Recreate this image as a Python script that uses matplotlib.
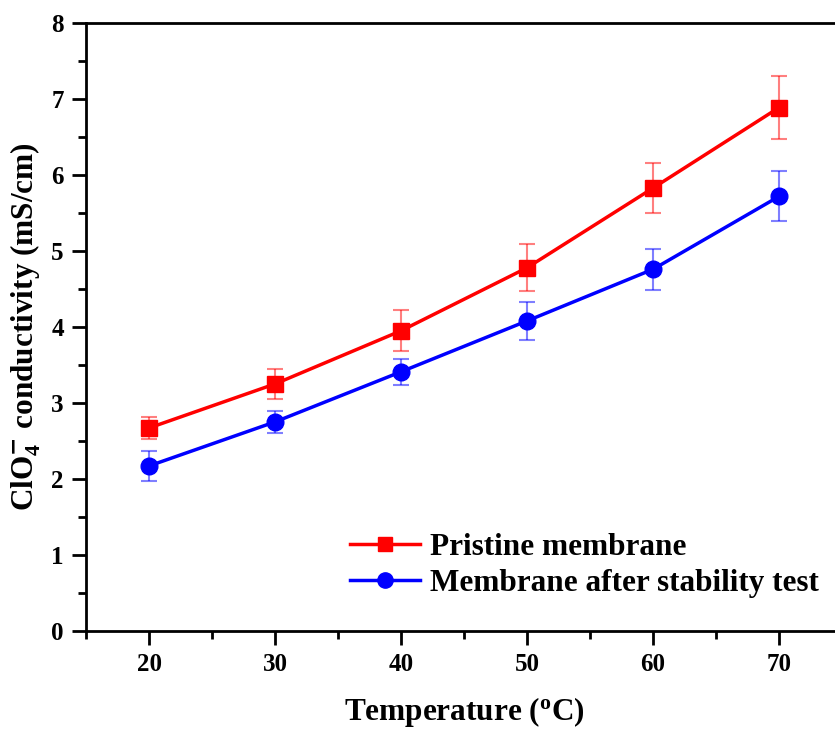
import matplotlib
matplotlib.use("Agg")
import matplotlib.pyplot as plt
from matplotlib.ticker import MultipleLocator
from matplotlib.lines import Line2D

plt.rcParams['font.family'] = ['Liberation Serif', 'DejaVu Serif']
plt.rcParams['font.weight'] = 'bold'
plt.rcParams['mathtext.fontset'] = 'custom'
plt.rcParams['mathtext.rm'] = 'Liberation Serif:bold'
plt.rcParams['mathtext.it'] = 'Liberation Serif:bold'
plt.rcParams['mathtext.bf'] = 'Liberation Serif:bold'
plt.rcParams['mathtext.default'] = 'regular'

temperature = [20, 30, 40, 50, 60, 70]
pristine = [2.67, 3.25, 3.95, 4.78, 5.83, 6.89]
pristine_err = [0.14, 0.20, 0.27, 0.31, 0.33, 0.42]
after = [2.17, 2.75, 3.41, 4.08, 4.76, 5.72]
after_err = [0.20, 0.14, 0.17, 0.25, 0.27, 0.33]
labels = ['Pristine membrane', 'Membrane after stability test']

W, H = 835, 731
fig = plt.figure(figsize=(W/100, H/100), dpi=100)
left, right, top, bottom = 86, 842, 23.3, 630.7
ax = fig.add_axes([left/W, 1 - bottom/H, (right-left)/W, (bottom-top)/H])

ax.errorbar(temperature, pristine, yerr=pristine_err, color='#ff0000', lw=2.5,
            marker='s', ms=11, ecolor=(1, 0, 0, 0.5), elinewidth=1.5, capsize=6,
            capthick=1.5, zorder=3)
ax.errorbar(temperature, after, yerr=after_err, color='#0000ff', lw=2.5,
            marker='o', ms=12, ecolor=(0, 0, 1, 0.5), elinewidth=1.5, capsize=6,
            capthick=1.5, zorder=3)

ax.set_xlim(15, 75)
ax.set_ylim(0, 8)
ax.xaxis.set_major_locator(MultipleLocator(10))
ax.xaxis.set_minor_locator(MultipleLocator(5))
ax.yaxis.set_major_locator(MultipleLocator(1))
ax.yaxis.set_minor_locator(MultipleLocator(0.5))
ax.spines['right'].set_visible(False)
for s in ax.spines.values():
    s.set_linewidth(2)
ax.tick_params(which='major', direction='out', length=10, width=2, labelsize=18, pad=6)
ax.tick_params(which='minor', direction='out', length=6, width=2)
ax.tick_params(top=False, right=False)
for lab in ax.get_xticklabels() + ax.get_yticklabels():
    lab.set_fontweight('bold')

ax.set_xlabel('Temperature ($^{o}$C)', fontsize=22.5, fontweight='bold', labelpad=14)
ax.set_ylabel('ClO$_4^{\\mathsf{-}}$ conductivity (mS/cm)', fontsize=22.5,
              fontweight='bold', labelpad=6)

handles = [Line2D([], [], color='#ff0000', lw=2.5, marker='s', ms=10),
           Line2D([], [], color='#0000ff', lw=2.5, marker='o', ms=11)]
leg = fig.legend(handles, labels, loc='lower right',
                 bbox_to_anchor=(819/W, 133/H), bbox_transform=fig.transFigure,
                 frameon=False, fontsize=22.5, handlelength=2.25, handletextpad=0.32,
                 labelspacing=0.22, borderaxespad=0, borderpad=0)
for t in leg.get_texts():
    t.set_fontweight('bold')

fig.savefig('out.png', dpi=100)
